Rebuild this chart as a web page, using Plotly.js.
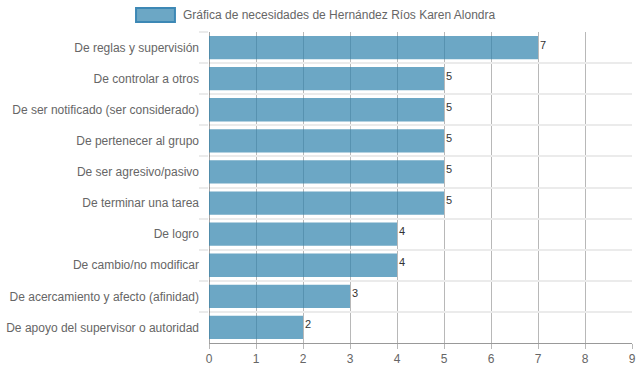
<!DOCTYPE html>
<html>
<head>
<meta charset="utf-8">
<script src="https://cdn.plot.ly/plotly-3.0.1.min.js"></script>
<style>html,body{margin:0;padding:0;background:#fff;}#chart{width:639px;height:372px;}</style>
</head>
<body>
<div id="chart"></div>
<script>
const seriesName = "Gráfica de necesidades de Hernández Ríos Karen Alondra";
const categories = [
  "De reglas y supervisión",
  "De controlar a otros",
  "De ser notificado (ser considerado)",
  "De pertenecer al grupo",
  "De ser agresivo/pasivo",
  "De terminar una tarea",
  "De logro",
  "De cambio/no modificar",
  "De acercamiento y afecto (afinidad)",
  "De apoyo del supervisor o autoridad"
];
const values = [7, 5, 5, 5, 5, 5, 4, 4, 3, 2];
const xTicks = [0, 1, 2, 3, 4, 5, 6, 7, 8, 9];

const font = {family: "Liberation Sans, Arial, sans-serif", size: 12, color: "#666"};
const labelFont = {family: "Liberation Sans, Arial, sans-serif", size: 11, color: "#333"};

const trace = {
  type: "bar",
  orientation: "h",
  y: categories,
  x: values,
  name: seriesName,
  marker: {color: "rgba(45,130,172,0.7)", line: {width: 0}},
  hoverinfo: "skip"
};

const valueLabels = values.map((v, i) => ({
  x: v, y: categories[i], xref: "x", yref: "y",
  text: String(v), showarrow: false,
  xanchor: "left", yanchor: "middle", xshift: 0, yshift: 3,
  font: labelFont
}));

const layout = {
  width: 639, height: 372,
  margin: {l: 209, r: 7, t: 32, b: 29},
  paper_bgcolor: "#fff", plot_bgcolor: "#fff",
  font: font,
  showlegend: false,
  bargap: 0.25,
  xaxis: {
    range: [0, 9],
    tickvals: xTicks,
    ticktext: xTicks.map(String),
    showgrid: true,
    gridcolor: "rgba(0,0,0,0.28)",
    gridwidth: 1,
    zeroline: true,
    zerolinecolor: "rgba(0,0,0,0.35)",
    zerolinewidth: 1,
    showline: true,
    linecolor: "rgba(0,0,0,0.4)",
    linewidth: 1,
    ticks: "outside",
    ticklen: 5,
    tickcolor: "rgba(0,0,0,0.28)",
    tickfont: font,
    fixedrange: true
  },
  yaxis: {
    type: "category",
    autorange: "reversed",
    tickson: "boundaries",
    showgrid: true,
    gridcolor: "#ebebeb",
    gridwidth: 2,
    ticks: "outside",
    ticklen: 9,
    tickwidth: 2,
    tickcolor: "#ebebeb",
    ticklabelstandoff: 9,
    showline: false,
    zeroline: false,
    tickfont: font,
    fixedrange: true
  },
  shapes: [
    {type: "rect", xref: "paper", yref: "paper",
     x0: -0.1725, x1: -0.0805, y0: 1.0322, y1: 1.0772,
     fillcolor: "rgba(45,130,172,0.7)", line: {color: "#3d88b5", width: 2}}
  ],
  annotations: [
    {xref: "paper", yref: "paper", x: -0.0662, y: 1.0547,
     xanchor: "left", yanchor: "middle", showarrow: false,
     text: seriesName, font: font}
  ].concat(valueLabels)
};

Plotly.newPlot("chart", [trace], layout, {displayModeBar: false, staticPlot: true});
</script>
</body>
</html>
